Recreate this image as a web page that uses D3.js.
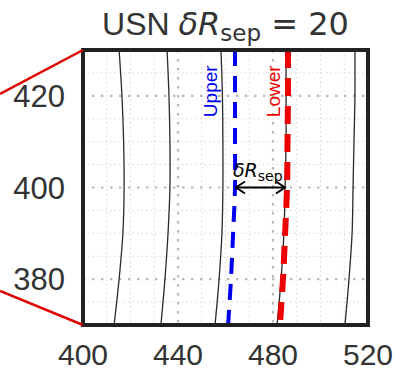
<!DOCTYPE html>
<html><head><meta charset="utf-8">
<script src="https://cdn.jsdelivr.net/npm/d3@7"></script>
<style>body{margin:0;background:#fff}svg{display:block}</style>
</head><body>
<script>
// ---- data ----
const yLevels = [430, 420, 410, 400, 390, 380, 370];
const contour1 = [415.2, 416.4, 417.1, 417.3, 416.8, 415.2, 413.1];
const contour2 = [435.4, 436.2, 436.6, 436.6, 435.8, 434.5, 432.8];
const contour3 = [458.1, 458.7, 458.9, 458.9, 458.5, 457.3, 455.6];
const contour4 = [485.5, 485.5, 485.5, 485.1, 484.6, 483.4, 481.7];
const contour5 = [514.5, 514.5, 514.1, 513.7, 513.3, 512.0, 510.3];
const upperSep = [464.0, 464.0, 464.0, 464.0, 463.2, 462.3, 461.1];
const lowerSep = [486.3, 486.3, 486.1, 485.9, 485.1, 484.2, 482.9];
const xTicks = [400, 440, 480, 520];
const yTicks = [380, 400, 420];
const arrowY = 400;
const labelY = 421;
const titleParts = ["USN ", "δR", "sep", " = 20"];

const W = 400, H = 372;
const m = {left: 83, right: 32, top: 50, bottom: 47};
const svg = d3.select("body").append("svg").attr("width", W).attr("height", H);
const x = d3.scaleLinear().domain([400, 520]).range([m.left, W - m.right]);
const y = d3.scaleLinear().domain([370, 430]).range([H - m.bottom, m.top]);

const g = svg.append("g");
// minor grid
const xMinor = d3.range(400, 521, 10).filter(v => !xTicks.includes(v));
const yMinor = d3.range(370, 431, 5).filter(v => !yTicks.includes(v));
g.selectAll(".xm").data(xMinor).join("line")
  .attr("x1", d => x(d)).attr("x2", d => x(d)).attr("y1", y(430)).attr("y2", y(370))
  .attr("stroke", "#d6d6d6").attr("stroke-width", 1).attr("stroke-dasharray", "1.5,3");
g.selectAll(".ym").data(yMinor).join("line")
  .attr("y1", d => y(d)).attr("y2", d => y(d)).attr("x1", x(400)).attr("x2", x(520))
  .attr("stroke", "#d6d6d6").attr("stroke-width", 1).attr("stroke-dasharray", "1.5,3");
// major grid
g.selectAll(".xM").data(xTicks.slice(1, -1)).join("line")
  .attr("x1", d => x(d)).attr("x2", d => x(d)).attr("y1", y(430)).attr("y2", y(370))
  .attr("stroke", "#b8b8b8").attr("stroke-width", 2.2).attr("stroke-dasharray", "2.4,6.6");
g.selectAll(".yM").data(yTicks).join("line")
  .attr("y1", d => y(d)).attr("y2", d => y(d)).attr("x1", x(400)).attr("x2", x(520))
  .attr("stroke", "#b8b8b8").attr("stroke-width", 2.2).attr("stroke-dasharray", "2.4,6.6");

const line = d3.line().x(d => x(d[0])).y(d => y(d[1])).curve(d3.curveCatmullRom);
const pts = arr => arr.map((v, i) => [v, yLevels[i]]);

[contour1, contour2, contour3, contour4, contour5].forEach(c => {
  g.append("path").attr("d", line(pts(c))).attr("fill", "none")
    .attr("stroke", "#2a2a2a").attr("stroke-width", 1.3);
});
g.append("path").attr("d", line(pts(upperSep))).attr("fill", "none")
  .attr("stroke", "#0000ee").attr("stroke-width", 4).attr("stroke-dasharray", "16,10");
g.append("path").attr("d", line(pts(lowerSep))).attr("fill", "none")
  .attr("stroke", "#ee0000").attr("stroke-width", 6).attr("stroke-dasharray", "18,10");

// labels Upper / Lower
g.append("text").attr("transform", `translate(${x(upperSep[1]) - 18},${y(labelY)}) rotate(-90)`)
  .attr("text-anchor", "middle").attr("font-family", "Liberation Sans, Arial, sans-serif")
  .attr("font-size", 19).attr("fill", "#0000ee").text("Upper");
g.append("text").attr("transform", `translate(${x(lowerSep[1]) - 8},${y(labelY)}) rotate(-90)`)
  .attr("text-anchor", "middle").attr("font-family", "Liberation Sans, Arial, sans-serif")
  .attr("font-size", 19).attr("fill", "#ee0000").text("Lower");

// arrow
const ax1 = x(upperSep[3]) + 1, ax2 = x(lowerSep[3]) - 2, ay = y(arrowY);
g.append("line").attr("x1", ax1).attr("x2", ax2).attr("y1", ay).attr("y2", ay)
  .attr("stroke", "#000").attr("stroke-width", 2);
g.append("path").attr("d", `M${ax1 + 9},${ay - 6}L${ax1},${ay}L${ax1 + 9},${ay + 6}`)
  .attr("fill", "none").attr("stroke", "#000").attr("stroke-width", 2);
g.append("path").attr("d", `M${ax2 - 9},${ay - 6}L${ax2},${ay}L${ax2 - 9},${ay + 6}`)
  .attr("fill", "none").attr("stroke", "#000").attr("stroke-width", 2);
const at = g.append("text").attr("x", ax1 - 3).attr("y", ay - 11)
  .attr("font-family", "DejaVu Sans, sans-serif").attr("font-size", 19).attr("fill", "#000");
at.append("tspan").attr("font-style", "italic").text("δR");
at.append("tspan").attr("font-size", 14).attr("dy", 4).text("sep");

// frame
svg.append("rect").attr("x", x(400)).attr("y", y(430)).attr("width", x(520) - x(400))
  .attr("height", y(370) - y(430)).attr("fill", "none").attr("stroke", "#222").attr("stroke-width", 4);

// inset connector lines
svg.append("line").attr("x1", 0).attr("y1", 94).attr("x2", x(400)).attr("y2", y(430))
  .attr("stroke", "#e00000").attr("stroke-width", 2.5);
svg.append("line").attr("x1", 0).attr("y1", 291).attr("x2", x(400)).attr("y2", y(370))
  .attr("stroke", "#e00000").attr("stroke-width", 2.5);

// tick labels
svg.selectAll(".xt").data(xTicks).join("text")
  .attr("x", d => x(d)).attr("y", H - 7).attr("text-anchor", "middle")
  .attr("font-family", "Liberation Sans, Arial, sans-serif").attr("font-size", 30).attr("fill", "#333")
  .text(d => d);
svg.selectAll(".yt").data(yTicks).join("text")
  .attr("x", m.left - 18).attr("y", d => y(d)).attr("dy", "0.36em").attr("text-anchor", "end")
  .attr("font-family", "Liberation Sans, Arial, sans-serif").attr("font-size", 31).attr("fill", "#333")
  .text(d => d);

// title
const t = svg.append("text").attr("x", (x(400) + x(520)) / 2).attr("y", 35).attr("text-anchor", "middle")
  .attr("font-size", 32).attr("fill", "#333").attr("font-family", "Liberation Sans, Arial, sans-serif");
t.append("tspan").text(titleParts[0]);
t.append("tspan").attr("font-family", "DejaVu Sans, sans-serif").attr("font-style", "italic").text(titleParts[1]);
t.append("tspan").attr("font-family", "DejaVu Sans, sans-serif").attr("font-size", 23).attr("dy", 6).text(titleParts[2]);
t.append("tspan").attr("font-family", "DejaVu Sans, sans-serif").attr("dy", -6).text(titleParts[3]);
</script>
</body></html>
